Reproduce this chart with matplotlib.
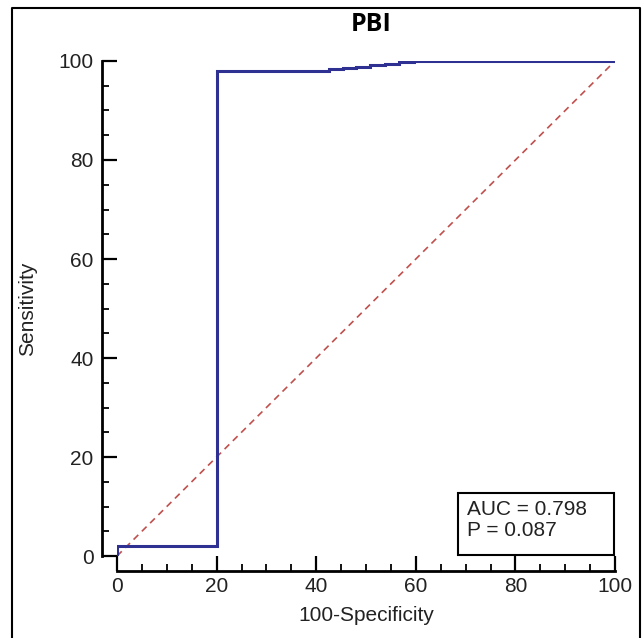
import matplotlib.pyplot as plt
from matplotlib.lines import Line2D
from matplotlib.patches import Rectangle
from matplotlib.ticker import MultipleLocator

# ROC curve points (100-Specificity, Sensitivity), step-wise
fpr = [0, 0, 20, 20, 42.6, 45.3, 48.0, 50.9, 53.8, 56.7, 59.6, 100]
tpr = [0, 2, 2, 98, 98.29, 98.57, 98.86, 99.14, 99.43, 99.71, 100, 100]
diag = [0, 100]
title = "PBI"
auc_text = "AUC = 0.798\nP = 0.087"

plt.rcParams['font.family'] = ['Liberation Sans', 'DejaVu Sans']

fig = plt.figure(figsize=(6.44, 6.38), dpi=100)
ax = fig.add_axes([0.1817, 0.1285, 0.7733, 0.7759])

ax.plot(fpr, tpr, drawstyle='steps-post', color='#2e3192', lw=2.2,
        solid_joinstyle='miter', zorder=3)
ax.plot(diag, diag, color='#c0504d', lw=1.2, ls=(0, (4, 3)), zorder=2)

ax.set_xlim(0, 100)
ax.set_ylim(0, 100)
ax.xaxis.set_major_locator(MultipleLocator(20))
ax.yaxis.set_major_locator(MultipleLocator(20))
ax.xaxis.set_minor_locator(MultipleLocator(5))
ax.yaxis.set_minor_locator(MultipleLocator(5))

for s in ['top', 'right']:
    ax.spines[s].set_visible(False)
for s in ['left', 'bottom']:
    ax.spines[s].set_position(('outward', 10.8))
    ax.spines[s].set_linewidth(2.0)
ax.spines['left'].set_bounds(0, 100)

ax.tick_params(which='major', direction='in', length=10.8, width=1.6,
               labelsize=15, colors='black', labelcolor='#222222')
ax.tick_params(which='minor', direction='in', length=5, width=1.3)
ax.tick_params(axis='y', which='major', pad=6)
ax.tick_params(axis='x', which='major', pad=4)

ax.set_xlabel("100-Specificity", fontsize=15, color='#222222')
ax.set_ylabel("Sensitivity", fontsize=15, color='#222222')
ax.xaxis.set_label_coords(0.5, -0.101)
ax.yaxis.set_label_coords(-0.161, 0.5)

fig.text(0.576, 0.962, title, fontsize=18, fontweight='bold',
         family=['Open Sans', 'DejaVu Sans'], ha='center', va='center')

ax.text(70.3, 7.3, auc_text, fontsize=15, color='#222222', va='center', ha='left',
        linespacing=1.1)
ax.add_patch(Rectangle((68.4, 0.2), 31.4, 12.6, fill=False, lw=1.5,
                       edgecolor='black', clip_on=False, zorder=4))

# outer frame (open at the bottom)
fx0, fx1, fy0, fy1 = 0.0186, 0.9938, 0.0, 0.9875
fig.add_artist(Line2D([fx0, fx0, fx1, fx1], [fy0, fy1, fy1, fy0],
                      transform=fig.transFigure, color='black', lw=1.5))

fig.savefig("out.png", dpi=100)
